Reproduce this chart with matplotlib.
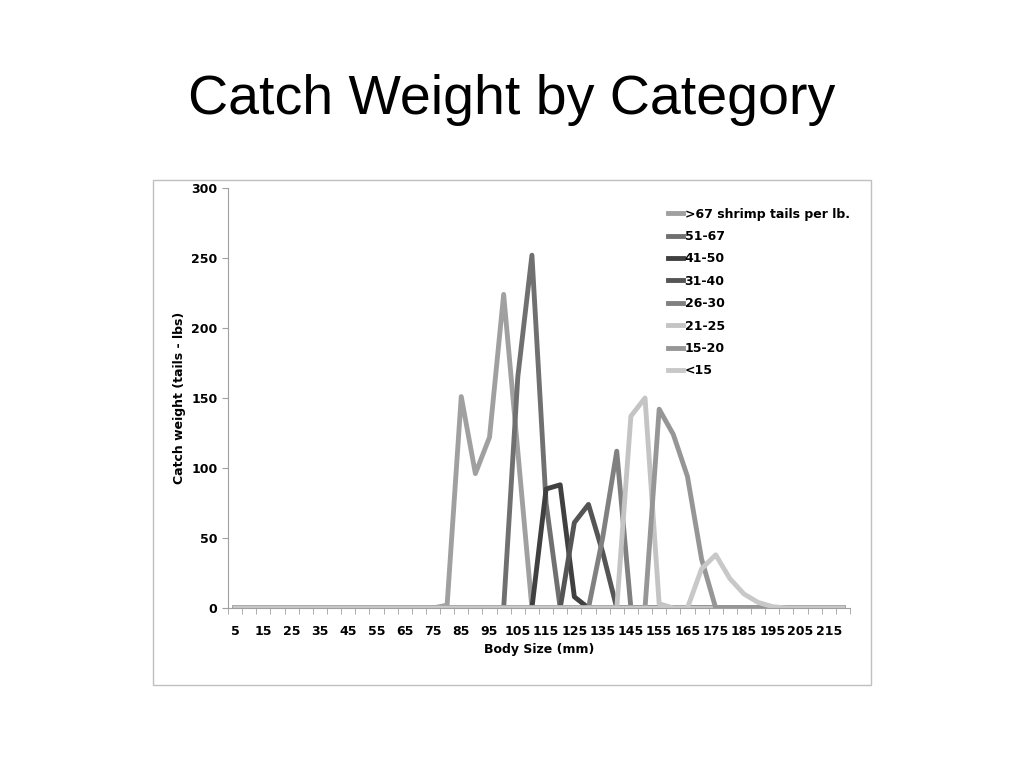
import matplotlib
matplotlib.use("Agg")
import matplotlib.pyplot as plt
import numpy as np

sizes = list(range(5, 225, 5))
tick_labels = [str(v) for v in range(5, 220, 10)]
names = [">67 shrimp tails per lb.", "51-67", "41-50", "31-40", "26-30", "21-25", "15-20", "<15"]
s_gt67 = {80: 2, 85: 151, 90: 96, 95: 122, 100: 224, 105: 112}
s_51_67 = {105: 165, 110: 252, 115: 75}
s_41_50 = {115: 85, 120: 88, 125: 8}
s_31_40 = {125: 61, 130: 74, 135: 40}
s_26_30 = {135: 50, 140: 112}
s_21_25 = {145: 137, 150: 150, 155: 3}
s_15_20 = {155: 142, 160: 124, 165: 94, 170: 35}
s_lt15 = {170: 28, 175: 38, 180: 21, 185: 10, 190: 4, 195: 1}
series = [s_gt67, s_51_67, s_41_50, s_31_40, s_26_30, s_21_25, s_15_20, s_lt15]
colors = ["#a0a0a0", "#707070", "#404040", "#555555", "#808080", "#c4c4c4", "#969696", "#c8c8c8"]

fig = plt.figure(figsize=(10.24, 7.68), dpi=100)
fig.text(0.5, 0.87, "Catch Weight by Category", ha="center", va="center",
         fontsize=40, family="Liberation Sans")
border = plt.Rectangle((153/1024, 1-685/768), (871-153)/1024, (685-180)/768,
                       transform=fig.transFigure, fill=False, ec="#c0c0c0", lw=1)
fig.add_artist(border)
ax = fig.add_axes([228/1024, 1-608/768, (850-228)/1024, (608-188)/768])
x = np.arange(len(sizes))
for d, c, n in zip(series, colors, names):
    ax.plot(x, [d.get(s, 0) for s in sizes], color=c, lw=3.5, label=n)
ax.set_xlim(-0.5, len(sizes) - 0.5)
ax.set_ylim(0, 300)
ax.set_yticks([0, 50, 100, 150, 200, 250, 300])
ax.set_xticks(x[::2])
ax.set_xticklabels(tick_labels)
ax.set_xticks(np.arange(-0.5, len(sizes), 1), minor=True)
for sp in ["top", "right"]:
    ax.spines[sp].set_visible(False)
for sp in ["left", "bottom"]:
    ax.spines[sp].set_color("#a0a0a0")
ax.tick_params(labelsize=9, color="#a0a0a0", length=4)
ax.tick_params(axis="x", which="major", length=0, pad=12)
ax.tick_params(axis="x", which="minor", length=4, color="#a0a0a0")
for t in ax.get_xticklabels() + ax.get_yticklabels():
    t.set_fontweight("bold")
ax.set_xlabel("Body Size (mm)", fontsize=9, fontweight="bold")
ax.set_ylabel("Catch weight (tails - lbs)", fontsize=9, fontweight="bold")
ax.legend(loc="upper left", bbox_to_anchor=(0.69, 0.98), frameon=False,
          prop={"size": 9, "weight": "bold"}, handlelength=1.2, handletextpad=0.1,
          labelspacing=0.75)
fig.savefig("out.png", dpi=100)
